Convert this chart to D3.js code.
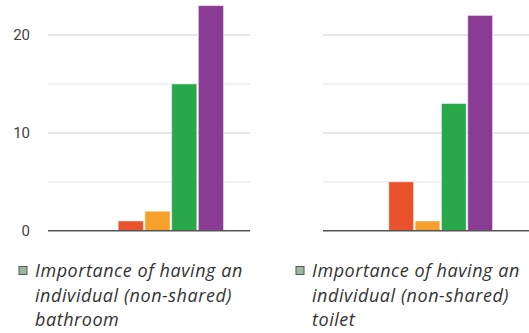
<!DOCTYPE html>
<html>
<head>
<meta charset="utf-8">
<script src="https://cdn.jsdelivr.net/npm/d3@7"></script>
<style>
  html, body { margin: 0; padding: 0; background: #fff; }
  svg { display: block; }
</style>
</head>
<body>
<svg id="chart" width="529" height="333"></svg>
<script>
// Rating levels 1–5 and the number of answers for each
const categories = ["1", "2", "3", "4", "5"];
const bathroomCounts = [0, 1, 2, 15, 23];
const toiletCounts = [0, 5, 1, 13, 22];
const barColors = ["#3366cc", "#e8512a", "#f7a02b", "#29a84a", "#8a3b94"];
const yTicks = [0, 10, 20];
const yMinorTicks = [5, 15];
const legendBathroom = ["Importance of having an", "individual (non-shared)", "bathroom"];
const legendToilet = ["Importance of having an", "individual (non-shared)", "toilet"];

const svg = d3.select("#chart");

const y = d3.scaleLinear().domain([0, 20]).range([230.8, 35]);

function panel(opts) {
  const g = svg.append("g");

  // gridlines
  g.selectAll("line.minor").data(yMinorTicks).join("line")
    .attr("x1", opts.gx0).attr("x2", opts.gx1)
    .attr("y1", d => y(d)).attr("y2", d => y(d))
    .attr("stroke", "#ececec").attr("stroke-width", 1.5);
  g.selectAll("line.major").data(yTicks.filter(d => d > 0)).join("line")
    .attr("x1", opts.gx0).attr("x2", opts.gx1)
    .attr("y1", d => y(d)).attr("y2", d => y(d))
    .attr("stroke", "#dedede").attr("stroke-width", 1.5);

  if (opts.showAxis) {
    const axis = d3.axisLeft(y).tickValues(yTicks).tickSize(0).tickPadding(0);
    const ag = g.append("g").attr("transform", `translate(30,0)`).call(axis);
    ag.select(".domain").remove();
    ag.selectAll("text")
      .attr("fill", "#444")
      .style("font-family", "Roboto, Arial, sans-serif")
      .style("font-size", "15px");
  }

  const x = d3.scaleBand().domain(categories).range(opts.barRange).paddingInner(0.06).paddingOuter(0);

  g.selectAll("rect.bar").data(opts.values).join("rect")
    .attr("class", "bar")
    .attr("x", (d, i) => x(categories[i]))
    .attr("width", x.bandwidth())
    .attr("y", d => y(d))
    .attr("height", d => y(0) - y(d))
    .attr("fill", (d, i) => barColors[i])
    .attr("stroke", "rgba(255,255,255,0.45)")
    .attr("stroke-width", 1);

  // baseline
  g.append("line")
    .attr("x1", opts.gx0).attr("x2", opts.gx1)
    .attr("y1", y(0)).attr("y2", y(0))
    .attr("stroke", "#555").attr("stroke-width", 1.6);

  // legend
  const lg = g.append("g");
  lg.append("rect")
    .attr("x", opts.lx).attr("y", 266.5)
    .attr("width", 8).attr("height", 8)
    .attr("fill", "#9fb5a2").attr("stroke", "#555").attr("stroke-width", 1);
  lg.selectAll("text").data(opts.legend).join("text")
    .attr("x", opts.lx + 16)
    .attr("y", (d, i) => 277 + i * 24.7)
    .attr("fill", "#333")
    .style("font-family", "'Open Sans', 'Noto Sans', sans-serif")
    .style("font-style", "italic")
    .style("font-size", "18px")
    .style("letter-spacing", "0.55px")
    .text(d => d);
}

panel({
  values: bathroomCounts, gx0: 48, gx1: 250, barRange: [91.5, 223.5],
  showAxis: true, lx: 19, legend: legendBathroom
});
panel({
  values: toiletCounts, gx0: 323, gx1: 529, barRange: [362.5, 492.5],
  showAxis: false, lx: 296, legend: legendToilet
});
</script>
</body>
</html>
